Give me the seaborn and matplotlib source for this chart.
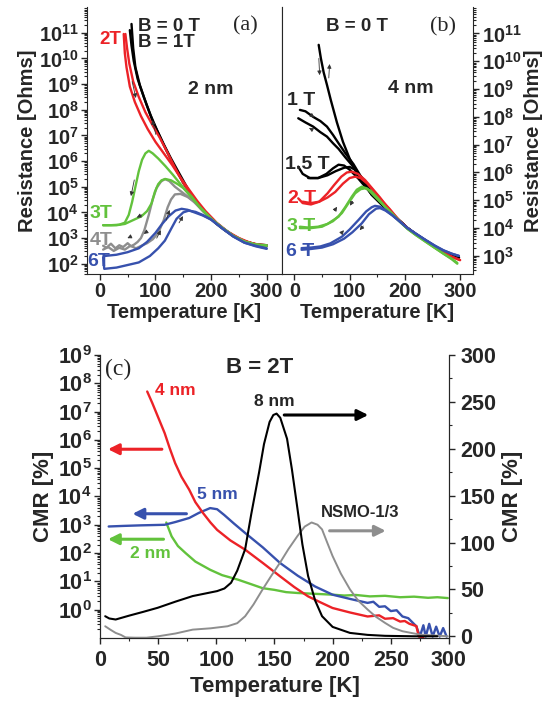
import numpy as np
import matplotlib
matplotlib.use('Agg')
import matplotlib.pyplot as plt
import seaborn as sns
from matplotlib.ticker import FixedLocator, LogLocator, MultipleLocator, NullFormatter

# ---------------- panel (a): 2 nm, log10(R) vs T ----------------
a_T_0T = [57, 60, 64, 72, 84, 96, 108, 120, 135, 150, 165, 180, 195, 210, 225, 240, 255, 270, 285, 300]
a_R_0T = [11.34, 10.4, 9.65, 8.95, 8.2, 7.5, 6.95, 6.4, 5.75, 5.15, 4.65, 4.2, 3.85, 3.55, 3.3, 3.08, 2.92, 2.8, 2.72, 2.68]
a_T_1T = [54, 57, 61, 68, 79, 91, 103, 115, 128, 142, 160, 180, 200, 220, 240, 260, 280, 300]
a_R_1T = [11.1, 10.5, 9.9, 9.2, 8.5, 7.8, 7.2, 6.65, 6.1, 5.55, 4.85, 4.22, 3.75, 3.4, 3.1, 2.88, 2.76, 2.72]
a_T_2Ta = [43, 45, 48, 54, 63, 74, 86, 100, 115, 130, 145, 160, 175, 190, 210, 230, 250, 270, 290, 300]
a_R_2Ta = [10.95, 10.2, 9.65, 8.9, 8.3, 7.75, 7.25, 6.75, 6.3, 5.85, 5.35, 4.9, 4.45, 4.05, 3.6, 3.25, 3.0, 2.82, 2.72, 2.7]
a_T_2Tb = [46, 49, 53, 60, 70, 82, 96, 108, 120, 135, 150, 165, 180, 200, 220, 240, 260, 280, 300]
a_R_2Tb = [10.95, 10.4, 9.8, 9.1, 8.5, 7.9, 7.35, 6.9, 6.4, 5.75, 5.15, 4.65, 4.2, 3.75, 3.4, 3.08, 2.88, 2.76, 2.72]
a_T_3Ta = [6, 20, 35, 45, 52, 58, 64, 70, 76, 82, 88, 95, 105, 118, 132, 145, 160, 180, 200, 220, 240, 260, 280, 300]
a_R_3Ta = [3.5, 3.5, 3.52, 3.6, 3.9, 4.4, 5.0, 5.6, 6.05, 6.3, 6.4, 6.3, 6.1, 5.8, 5.45, 5.1, 4.7, 4.2, 3.75, 3.4, 3.08, 2.86, 2.75, 2.7]
a_T_3Tb = [6, 30, 45, 60, 75, 85, 93, 99, 105, 111, 118, 128, 140, 150, 165, 180, 200, 220, 240, 260, 280, 300]
a_R_3Tb = [3.5, 3.5, 3.55, 3.7, 3.85, 4.05, 4.35, 4.8, 5.1, 5.25, 5.3, 5.25, 5.1, 4.95, 4.62, 4.2, 3.75, 3.4, 3.08, 2.86, 2.74, 2.72]
a_T_4Ta = [6, 12, 20, 28, 35, 42, 50, 56, 62, 68, 74, 80, 88, 95, 102, 110, 117, 125, 135, 150, 165, 180, 200, 220, 240, 260, 280, 300]
a_R_4Ta = [2.7, 2.62, 2.78, 2.6, 2.72, 2.65, 2.8, 2.68, 2.75, 2.85, 3.0, 3.3, 3.9, 4.5, 4.95, 5.2, 5.3, 5.22, 5.0, 4.75, 4.5, 4.2, 3.75, 3.4, 3.08, 2.86, 2.74, 2.7]
a_T_4Tb = [6, 15, 25, 35, 45, 55, 65, 75, 85, 95, 105, 115, 122, 128, 135, 145, 158, 170, 185, 200, 220, 240, 260, 280, 300]
a_R_4Tb = [2.55, 2.65, 2.5, 2.62, 2.55, 2.7, 2.6, 2.7, 2.8, 2.95, 3.2, 3.7, 4.2, 4.5, 4.7, 4.72, 4.6, 4.4, 4.05, 3.75, 3.4, 3.08, 2.86, 2.74, 2.7]
a_T_6Ta = [6, 8, 30, 50, 70, 90, 105, 117, 128, 138, 150, 160, 172, 185, 200, 220, 240, 260, 280, 300]
a_R_6Ta = [2.25, 1.8, 1.85, 1.95, 2.05, 2.3, 2.6, 2.9, 3.35, 3.75, 4.0, 4.07, 4.02, 3.9, 3.72, 3.38, 3.06, 2.82, 2.7, 2.6]
a_T_6Tb = [8, 30, 50, 70, 85, 100, 112, 124, 136, 147, 158, 170, 185, 200, 220, 240, 260, 280, 300]
a_R_6Tb = [2.3, 2.35, 2.45, 2.6, 2.85, 3.2, 3.55, 3.85, 4.07, 4.14, 4.1, 4.0, 3.88, 3.72, 3.38, 3.06, 2.82, 2.68, 2.58]

# small sweep-direction arrows (T0, logR0, T1, logR1)
a_arrows = [(57, 9.2, 66, 8.35), (102, 6.93, 93, 7.7), (63, 5.37, 55, 4.53),
            (80, 3.95, 62, 3.75), (60, 3.1, 45, 2.95), (88, 3.3, 75, 3.1),
            (118, 3.6, 127, 4.2), (140, 3.5, 152, 3.95), (100, 2.9, 112, 3.4)]

# ---------------- panel (b): 4 nm ----------------
b_T_0T = [44, 48, 53, 59, 66, 77, 88, 100, 112, 125, 140, 155, 170, 180, 190, 205, 220, 237, 255, 270, 285, 298]
b_R_0T = [10.59, 10.1, 9.6, 9.15, 8.6, 7.8, 7.1, 6.5, 6.0, 5.6, 5.2, 4.9, 4.62, 4.45, 4.27, 4.0, 3.78, 3.56, 3.33, 3.15, 3.02, 2.95]
b_T_1Ta = [10, 20, 34, 47, 59, 70, 80, 92, 107, 122, 140, 155, 170, 190, 205, 220, 237, 255, 270, 285, 298]
b_R_1Ta = [8.25, 8.2, 8.0, 7.85, 7.65, 7.35, 7.05, 6.7, 6.3, 5.8, 5.25, 4.95, 4.62, 4.27, 4.0, 3.78, 3.56, 3.33, 3.15, 3.02, 2.95]
b_T_1Tb = [7, 20, 34, 47, 59, 70, 80, 92, 107, 122, 140, 155, 170, 190, 205, 220, 237, 255, 270, 285, 298]
b_R_1Tb = [7.95, 7.8, 7.65, 7.45, 7.29, 7.05, 6.85, 6.55, 6.2, 5.75, 5.2, 4.92, 4.62, 4.27, 4.0, 3.78, 3.56, 3.33, 3.15, 3.02, 2.95]
b_T_15a = [7, 15, 28, 43, 58, 70, 80, 90, 100, 115, 130, 145, 160, 175, 190, 205, 220, 237, 255, 270, 285, 298]
b_R_15a = [6.21, 5.95, 5.8, 5.8, 5.95, 6.15, 6.28, 6.25, 6.1, 5.8, 5.45, 5.15, 4.85, 4.55, 4.27, 4.0, 3.78, 3.56, 3.33, 3.15, 3.02, 2.95]
b_T_15b = [25, 43, 60, 75, 90, 100, 110, 125, 140, 155, 170, 190, 205, 220, 237, 255, 270, 285, 298]
b_R_15b = [5.8, 5.8, 5.9, 6.05, 6.17, 6.2, 6.1, 5.75, 5.35, 5.0, 4.65, 4.27, 4.0, 3.78, 3.56, 3.33, 3.15, 3.02, 2.95]
b_T_2Ta = [7, 15, 30, 45, 60, 72, 85, 95, 104, 115, 128, 140, 155, 170, 190, 205, 220, 237, 255, 270, 285, 300]
b_R_2Ta = [5.07, 4.9, 4.85, 4.95, 5.25, 5.55, 5.85, 6.0, 6.03, 5.95, 5.73, 5.45, 5.1, 4.72, 4.27, 4.0, 3.78, 3.56, 3.3, 3.12, 2.97, 2.85]
b_T_2Tb = [15, 30, 45, 60, 74, 88, 100, 110, 120, 132, 145, 160, 172, 190, 205, 220, 237, 255, 270, 285, 300]
b_R_2Tb = [4.95, 4.9, 4.95, 5.1, 5.3, 5.6, 5.8, 5.85, 5.8, 5.6, 5.3, 4.95, 4.7, 4.27, 4.0, 3.78, 3.56, 3.3, 3.12, 2.97, 2.85]
b_T_3Ta = [10, 25, 43, 60, 80, 92, 104, 113, 122, 132, 146, 160, 175, 190, 205, 220, 237, 255, 270, 285, 295]
b_R_3Ta = [4.05, 4.02, 4.05, 4.15, 4.41, 4.75, 5.13, 5.38, 5.49, 5.42, 5.13, 4.85, 4.55, 4.25, 3.97, 3.75, 3.52, 3.28, 3.08, 2.9, 2.75]
b_T_3Tb = [10, 30, 50, 70, 86, 98, 110, 120, 128, 138, 150, 165, 178, 190, 205, 220, 237, 255, 270, 285, 295]
b_R_3Tb = [4.0, 4.0, 4.05, 4.25, 4.54, 4.9, 5.25, 5.4, 5.43, 5.35, 5.1, 4.75, 4.5, 4.25, 3.97, 3.75, 3.52, 3.28, 3.08, 2.88, 2.72]
b_T_6Ta = [13, 30, 47, 65, 86, 100, 116, 130, 140, 146, 155, 165, 178, 190, 205, 220, 237, 255, 270, 285, 298]
b_R_6Ta = [3.28, 3.3, 3.34, 3.45, 3.69, 3.95, 4.29, 4.6, 4.75, 4.8, 4.77, 4.65, 4.45, 4.25, 4.0, 3.8, 3.58, 3.36, 3.2, 3.08, 3.0]
b_T_6Tb = [13, 30, 50, 70, 90, 105, 122, 135, 148, 155, 165, 178, 190, 205, 220, 237, 255, 270, 285, 298]
b_R_6Tb = [3.22, 3.25, 3.3, 3.42, 3.62, 3.85, 4.17, 4.5, 4.7, 4.72, 4.63, 4.45, 4.25, 4.0, 3.8, 3.58, 3.36, 3.2, 3.08, 3.0]

b_arrows = [(44, 10.2, 46, 9.4), (62, 9.3, 64, 10.0), (28, 8.1, 40, 7.92),
            (36, 7.5, 22, 7.65), (70, 4.55, 80, 4.85), (108, 5.05, 98, 4.72),
            (82, 3.75, 93, 4.0), (128, 4.15, 115, 3.85)]

# ---------------- panel (c): CMR at B = 2T ----------------
c_T_4nm = [40.6, 45, 50, 55.6, 60, 64.6, 70, 76.7, 82, 88.7, 95, 100.7, 112, 124.8, 140, 154.8, 167, 178.9, 190, 199.9,
           215, 230, 240, 245, 252, 258, 262, 266, 272, 274, 278]
c_R_4nm = [7.71, 7.3, 6.8, 6.24, 5.7, 5.18, 4.7, 4.24, 3.8, 3.41, 3.08, 2.82, 2.45, 2.12, 1.65, 1.18, 0.8, 0.47, 0.25, 0.06,
           -0.1, -0.24, -0.2, -0.32, -0.3, -0.42, -0.4, -0.5, -0.58, -0.95, -0.97]
c_T_5nm = [7.5, 20, 35, 55.6, 65, 76.7, 85, 94.7, 100.7, 106.7, 115, 124.8, 140, 154.8, 170, 184.9, 199.9, 215, 230, 235,
           240, 245, 250, 255, 260, 265, 272, 275, 278, 280, 283, 286, 289, 292, 295, 298]
c_R_5nm = [2.94, 2.96, 2.98, 3.0, 3.1, 3.24, 3.42, 3.59, 3.55, 3.35, 3.05, 2.71, 2.2, 1.65, 1.2, 0.82, 0.53, 0.38, 0.24, 0.28,
           0.1, 0.12, -0.05, -0.02, -0.24, -0.3, -0.59, -0.95, -0.55, -0.95, -0.5, -0.95, -0.6, -0.95, -0.65, -0.95]
c_T_2nm = [57, 61.6, 67, 73.6, 82, 94.7, 105, 118.7, 130, 139.8, 150, 160, 169.8, 185, 199.9, 210, 220, 232, 245, 258, 270,
           282, 290, 299]
c_R_2nm = [3.08, 2.59, 2.25, 2.0, 1.7, 1.41, 1.22, 1.06, 0.9, 0.76, 0.7, 0.62, 0.59, 0.56, 0.53, 0.5, 0.52, 0.47, 0.49, 0.44,
           0.46, 0.42, 0.44, 0.41]
c_T_8nm = [4.5, 8, 13.5, 25, 37, 49.6, 65, 79.7, 92, 100.7, 107, 112.7, 118, 124.8, 130, 136.8, 141, 145.8, 149, 151.8,
           155, 160.8, 165, 169.8, 174, 178.9, 185, 190.9, 200, 214.9, 230, 245, 270, 290]
c_C_8nm = [21.4, 19, 17.9, 22, 26, 30.4, 37, 42.9, 46, 48.2, 51, 57.1, 70, 92.9, 130, 175, 205, 228.6, 236, 237.5,
           233, 210.7, 178, 135.7, 98, 64.3, 38, 21.4, 10, 3.6, 1.5, 0.5, 0, 0]
c_T_nsmo = [4.5, 9, 13.5, 18, 22, 30, 40, 50, 65, 79.7, 95, 109.7, 118, 124.8, 132, 139.8, 147, 154.8, 162, 169.8, 176,
            181.9, 187, 190.9, 195, 199.9, 207, 214.9, 222, 230, 237, 245, 252, 260, 275, 299]
c_C_nsmo = [10.7, 7, 3.6, 1.5, -1.2, -1.5, -1.5, 0, 3, 7.1, 8.5, 10.7, 14, 21.4, 34, 50, 64, 78.6, 93, 107, 117,
            121.4, 119, 114, 101, 85.7, 67, 50, 38, 28.6, 21, 14.3, 9, 5.4, 1.8, 0]

RED = '#ec2227'
GREEN = '#62c23c'
BLUE = '#3751ad'
GRAY = '#8e8e8e'

sns.set_style('ticks')
plt.rcParams['font.family'] = ['Liberation Sans', 'DejaVu Sans']
plt.rcParams['font.weight'] = 'bold'
plt.rcParams['mathtext.fontset'] = 'custom'
plt.rcParams['mathtext.bf'] = 'Liberation Sans:bold'
plt.rcParams['mathtext.rm'] = 'Liberation Sans:bold'
plt.rcParams['mathtext.default'] = 'bf'

FS = 14.5
FSC = 15.5


def curve(ax, T, vals, color, log=True, lw=1.7):
    y = 10 ** np.array(vals) if log else np.array(vals)
    sns.lineplot(x=T, y=y, ax=ax, color=color, lw=lw, sort=False, estimator=None)


def small_arrows(ax, arrows):
    for t0, r0, t1, r1 in arrows:
        ax.annotate('', xy=(t1, 10 ** r1), xytext=(t0, 10 ** r0),
                    arrowprops=dict(arrowstyle='-|>', color='0.2', lw=0.6, mutation_scale=6))


def log_ticks(ax, lo, hi):
    vals = [10.0 ** k for k in range(lo, hi + 1)]
    ax.yaxis.set_major_locator(FixedLocator(vals))
    ax.set_yticklabels([r'$10^{%d}$' % k for k in range(lo, hi + 1)])
    ax.yaxis.set_minor_locator(LogLocator(base=10, subs=np.arange(2, 10), numticks=40))
    ax.yaxis.set_minor_formatter(NullFormatter())


fig = plt.figure(figsize=(5.49, 7.02), dpi=100)
ax_a = fig.add_axes([0.1585, 0.6097, 0.3546, 0.3803])
ax_b = fig.add_axes([0.5131, 0.6097, 0.349, 0.3803])
ax_c = fig.add_axes([0.1821, 0.0912, 0.6357, 0.4031])
ax_r = ax_c.twinx()

for ax in (ax_a, ax_b, ax_c):
    ax.set_yscale('log')

# ---- (a) ----
curve(ax_a, a_T_0T, a_R_0T, 'black')
curve(ax_a, a_T_1T, a_R_1T, 'black')
curve(ax_a, a_T_2Ta, a_R_2Ta, RED)
curve(ax_a, a_T_2Tb, a_R_2Tb, RED)
curve(ax_a, a_T_4Ta, a_R_4Ta, GRAY)
curve(ax_a, a_T_4Tb, a_R_4Tb, GRAY)
curve(ax_a, a_T_3Ta, a_R_3Ta, GREEN)
curve(ax_a, a_T_3Tb, a_R_3Tb, GREEN)
curve(ax_a, a_T_6Ta, a_R_6Ta, BLUE)
curve(ax_a, a_T_6Tb, a_R_6Tb, BLUE)
small_arrows(ax_a, a_arrows)

ax_a.set_xlim(-23, 327)
ax_a.set_ylim(10 ** 1.6, 10 ** 12)
log_ticks(ax_a, 2, 11)
ax_a.set_xticks([0, 100, 200, 300])
ax_a.xaxis.set_minor_locator(MultipleLocator(50))
ax_a.set_xlabel('Temperature [K]', fontsize=FS, fontweight='bold', labelpad=1)
ax_a.set_ylabel('Resistance [Ohms]', fontsize=FS, fontweight='bold', labelpad=1)
ax_a.spines['top'].set_visible(False)
ax_a.tick_params(axis='both', which='major', labelsize=FS, direction='out', length=4, width=1, pad=2)
ax_a.tick_params(axis='both', which='minor', direction='out', length=2, width=0.8)

ax_a.text(68, 10 ** 11.25, 'B = 0 T', fontsize=13.5, fontweight='bold', va='center')
ax_a.text(68, 10 ** 10.62, 'B = 1T', fontsize=13.5, fontweight='bold', va='center')
ax_a.text(38, 10 ** 10.75, '2T', fontsize=13.5, fontweight='bold', va='center', ha='right', color=RED)
ax_a.text(200, 10 ** 8.8, '2 nm', fontsize=14, fontweight='bold', va='center', ha='center')
ax_a.text(262, 10 ** 11.25, '(a)', fontsize=16, fontweight='normal', va='center', ha='center',
          family='Liberation Serif')
ax_a.text(2, 10 ** 3.95, '3T', fontsize=14, fontweight='bold', va='center', ha='center', color=GREEN)
ax_a.text(2, 10 ** 2.9, '4T', fontsize=14, fontweight='bold', va='center', ha='center', color=GRAY)
ax_a.text(-2, 10 ** 2.1, '6T', fontsize=14, fontweight='bold', va='center', ha='center', color=BLUE)

# ---- (b) ----
curve(ax_b, b_T_0T, b_R_0T, 'black')
curve(ax_b, b_T_1Ta, b_R_1Ta, 'black')
curve(ax_b, b_T_1Tb, b_R_1Tb, 'black')
curve(ax_b, b_T_15a, b_R_15a, 'black')
curve(ax_b, b_T_15b, b_R_15b, 'black')
curve(ax_b, b_T_2Ta, b_R_2Ta, RED)
curve(ax_b, b_T_2Tb, b_R_2Tb, RED)
curve(ax_b, b_T_3Ta, b_R_3Ta, GREEN)
curve(ax_b, b_T_3Tb, b_R_3Tb, GREEN)
curve(ax_b, b_T_6Ta, b_R_6Ta, BLUE)
curve(ax_b, b_T_6Tb, b_R_6Tb, BLUE)
small_arrows(ax_b, b_arrows)

ax_b.set_xlim(-23, 324)
ax_b.set_ylim(10 ** 2.35, 10 ** 11.95)
ax_b.yaxis.tick_right()
ax_b.yaxis.set_label_position('right')
log_ticks(ax_b, 3, 11)
ax_b.set_xticks([0, 100, 200, 300])
ax_b.xaxis.set_minor_locator(MultipleLocator(50))
ax_b.set_xlabel('Temperature [K]', fontsize=FS, fontweight='bold', labelpad=1)
ax_b.set_ylabel('Resistance [Ohms]', fontsize=FS, fontweight='bold', labelpad=2)
ax_b.spines['top'].set_visible(False)
ax_b.tick_params(axis='both', which='major', labelsize=FS, direction='out', length=4, width=1, pad=2)
ax_b.tick_params(axis='both', which='minor', direction='out', length=2, width=0.8)

ax_b.text(113, 10 ** 11.25, 'B = 0 T', fontsize=13.5, fontweight='bold', va='center', ha='center')
ax_b.text(270, 10 ** 11.25, '(b)', fontsize=16, fontweight='normal', va='center', ha='center',
          family='Liberation Serif')
ax_b.text(210, 10 ** 9.03, '4 nm', fontsize=14, fontweight='bold', va='center', ha='center')
ax_b.text(13, 10 ** 8.6, '1 T', fontsize=14, fontweight='bold', va='center', ha='center')
ax_b.text(24, 10 ** 6.27, '1.5 T', fontsize=14, fontweight='bold', va='center', ha='center')
ax_b.text(13, 10 ** 5.07, '2 T', fontsize=14, fontweight='bold', va='center', ha='center', color=RED)
ax_b.text(13, 10 ** 4.06, '3 T', fontsize=14, fontweight='bold', va='center', ha='center', color=GREEN)
ax_b.text(10, 10 ** 3.16, '6 T', fontsize=14, fontweight='bold', va='center', ha='center', color=BLUE)

# ---- (c) ----
curve(ax_c, c_T_2nm, c_R_2nm, GREEN)
curve(ax_c, c_T_5nm, c_R_5nm, BLUE)
curve(ax_c, c_T_4nm, c_R_4nm, RED)
curve(ax_r, c_T_nsmo, c_C_nsmo, GRAY, log=False, lw=1.4)
curve(ax_r, c_T_8nm, c_C_8nm, 'black', log=False, lw=1.5)

ax_c.set_xlim(0, 300)
ax_c.set_ylim(0.1, 1e9)
log_ticks(ax_c, 0, 9)
ax_c.set_xticks(np.arange(0, 301, 50))
ax_c.xaxis.set_minor_locator(MultipleLocator(25))
ax_r.set_ylim(-1.8, 300)
ax_r.set_yticks(np.arange(0, 301, 50))
ax_r.yaxis.set_minor_locator(MultipleLocator(25))
ax_c.set_xlabel('Temperature [K]', fontsize=FSC + 0.5, fontweight='bold', labelpad=3)
ax_c.set_ylabel('CMR [%]', fontsize=FSC + 0.5, fontweight='bold', labelpad=2)
ax_r.set_ylabel('CMR [%]', fontsize=FSC + 0.5, fontweight='bold', labelpad=4)
for ax in (ax_c, ax_r):
    ax.spines['top'].set_visible(False)
    ax.tick_params(axis='both', which='major', labelsize=FSC, direction='out', length=4, width=1, pad=2)
    ax.tick_params(axis='both', which='minor', direction='out', length=2, width=0.8)
ax_c.tick_params(axis='x', which='major', pad=5)
ax_r.tick_params(axis='y', which='major', pad=4)
ax_r.set_xlim(0, 300)

big = dict(arrowstyle='-|>', lw=2.2, mutation_scale=16)
ax_c.annotate('', xy=(4.5, 10 ** 5.67), xytext=(55.6, 10 ** 5.67), arrowprops=dict(big, color=RED))
ax_c.annotate('', xy=(25.6, 10 ** 3.39), xytext=(76.7, 10 ** 3.39), arrowprops=dict(big, color=BLUE))
ax_c.annotate('', xy=(4.5, 10 ** 2.49), xytext=(57, 10 ** 2.49), arrowprops=dict(big, color=GREEN))
ax_r.annotate('', xy=(233, 236), xytext=(156, 236), arrowprops=dict(big, color='black'))
ax_r.annotate('', xy=(248, 112.5), xytext=(195, 112.5), arrowprops=dict(big, color=GRAY))

ax_c.text(137, 10 ** 8.55, 'B = 2T', fontsize=16, fontweight='bold', ha='center', va='center')
ax_c.text(4, 10 ** 8.5, '(c)', fontsize=17, fontweight='normal', ha='left', va='center',
          family='Liberation Serif')
ax_c.text(47, 10 ** 7.76, '4 nm', fontsize=12.5, fontweight='bold', ha='left', va='center', color=RED)
ax_c.text(101, 10 ** 4.06, '5 nm', fontsize=12.5, fontweight='bold', ha='center', va='center', color=BLUE)
ax_c.text(43.6, 10 ** 2.0, '2 nm', fontsize=12.5, fontweight='bold', ha='center', va='center', color=GREEN)
ax_r.text(150, 250, '8 nm', fontsize=12.5, fontweight='bold', ha='center', va='center')
ax_r.text(224, 132, 'NSMO-1/3', fontsize=12, fontweight='bold', ha='center', va='center')

fig.savefig('out.png', dpi=100)
